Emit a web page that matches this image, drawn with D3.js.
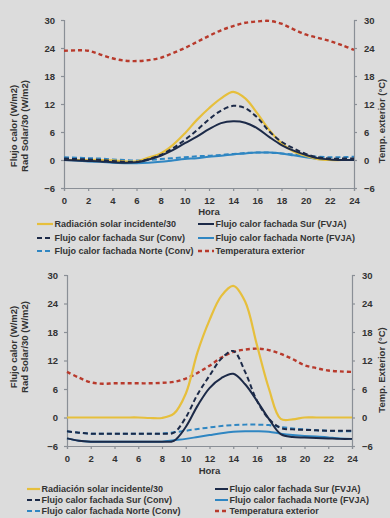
<!DOCTYPE html>
<html><head><meta charset="utf-8">
<script src="https://cdn.jsdelivr.net/npm/d3@7/dist/d3.min.js"></script>
<style>
html,body{margin:0;padding:0;background:#dcdcdc;}
svg{display:block;font-family:"Liberation Sans",Arial,sans-serif;}
</style></head>
<body>
<svg id="c" width="390" height="518"></svg>
<script>
// ---------- DATA ----------
const hours = d3.range(0, 25);
const xTicks = [0,2,4,6,8,10,12,14,16,18,20,22,24];
const yTicks = [-6,0,6,12,18,24,30];
const seriesNames = [
  "Radiación solar incidente/30",
  "Flujo calor fachada Sur (FVJA)",
  "Flujo calor fachada Sur (Conv)",
  "Flujo calor fachada Norte (FVJA)",
  "Flujo calor fachada Norte (Conv)",
  "Temperatura exterior"
];

// Chart 1 (top)
const top_solar   = [0,0,0,0,-0.1,-0.3,-0.3,0.5,1.4,3.2,5.7,8.6,11.1,13.2,14.6,13.2,10.0,6.4,3.6,1.8,0.9,0.2,0,0,0];
const top_surFVJA = [0,-0.1,-0.2,-0.3,-0.5,-0.6,-0.5,0.1,0.9,2.1,3.6,5.0,6.6,7.9,8.3,8.0,6.8,4.9,3.2,2.0,1.1,0.4,0.1,0,0];
const top_surConv = [0.3,0.2,0.1,0,-0.2,-0.4,-0.4,0.2,1.1,2.5,4.3,6.4,8.7,10.6,11.6,11.1,9.1,6.1,3.9,2.5,1.3,0.6,0.3,0.3,0.3];
const top_norFVJA = [0,-0.1,-0.3,-0.4,-0.6,-0.7,-0.7,-0.6,-0.4,-0.1,0.2,0.4,0.7,0.9,1.2,1.4,1.6,1.6,1.4,1.0,0.6,0.2,0,0,0];
const top_norConv = [0.6,0.5,0.4,0.3,0.1,0,-0.1,0,0.2,0.4,0.6,0.8,0.9,1.1,1.3,1.5,1.6,1.6,1.4,1.2,0.9,0.7,0.6,0.6,0.7];
const top_temp    = [23.4,23.5,23.4,22.6,21.8,21.3,21.2,21.4,21.9,22.9,24.0,25.3,26.6,27.8,28.7,29.4,29.7,29.8,29.2,28.0,26.9,26.2,25.5,24.6,23.6];

// Chart 2 (bottom)
const bot_solar   = [0,0,0,0,0,0,0,-0.1,-0.1,0.8,5.0,13.8,20.5,25.6,27.7,24.4,15.2,6.1,-0.3,-0.4,0,0,0,0,0];
const bot_surFVJA = [-4.4,-4.9,-5.1,-5.1,-5.1,-5.1,-5.1,-5.1,-5.1,-4.9,-2.0,2.5,6.2,8.3,9.2,7.0,3.5,-0.3,-3.5,-4.1,-4.2,-4.3,-4.4,-4.5,-4.5];
const bot_surConv = [-2.9,-3.2,-3.4,-3.4,-3.4,-3.4,-3.4,-3.4,-3.4,-3.2,0,4.9,8.8,12.4,14.0,9.6,3.5,-0.3,-2.2,-2.5,-2.6,-2.7,-2.8,-2.8,-2.8];
const bot_norFVJA = [-4.4,-4.9,-5.1,-5.1,-5.1,-5.1,-5.1,-5.1,-5.1,-4.8,-4.5,-4.1,-3.7,-3.3,-3.0,-2.9,-2.9,-3.0,-3.4,-3.7,-3.9,-4.0,-4.2,-4.4,-4.5];
const bot_norConv = [-2.9,-3.2,-3.4,-3.4,-3.4,-3.4,-3.4,-3.4,-3.4,-3.1,-2.8,-2.4,-2.1,-1.8,-1.6,-1.5,-1.5,-1.6,-2.0,-2.3,-2.5,-2.7,-2.8,-2.9,-2.9];
const bot_temp    = [9.6,8.4,7.4,7.1,7.2,7.2,7.2,7.2,7.3,7.5,8.2,9.4,10.9,12.6,13.8,14.3,14.5,14.2,13.4,12.3,11.0,10.4,9.9,9.7,9.6];

// ---------- STYLES ----------
const styles = [
  {color:"#e6bf3c", dash:null,  w:2.2},
  {color:"#1c2a48", dash:null,  w:2.0},
  {color:"#1c2a48", dash:"5,3", w:2.0},
  {color:"#2f86c2", dash:null,  w:2.0},
  {color:"#2f86c2", dash:"5,3", w:2.0},
  {color:"#b83a2c", dash:"4,3", w:2.4}
];

const svg = d3.select("#c");

function drawChart(cfg, seriesList) {
  const g = svg.append("g");
  const x = d3.scaleLinear().domain([0,24]).range([cfg.left, cfg.right]);
  const y = d3.scaleLinear().domain([-6,30]).range([cfg.bottom, cfg.top]);

  const axisColor = "#8a8f96";
  const fontTick = "bold 9.5px 'Liberation Sans', Arial, sans-serif";

  const ax = g.append("g").attr("transform", `translate(0,${cfg.bottom})`)
    .call(d3.axisBottom(x).tickValues(xTicks).tickSize(3).tickFormat(d3.format("d")));
  const ayL = g.append("g").attr("transform", `translate(${cfg.left},0)`)
    .call(d3.axisLeft(y).tickValues(yTicks).tickSize(3).tickFormat(d3.format("d")));
  const ayR = g.append("g").attr("transform", `translate(${cfg.right},0)`)
    .call(d3.axisRight(y).tickValues(yTicks).tickSize(3).tickFormat(d3.format("d")));
  [ax, ayL, ayR].forEach(a => {
    a.selectAll("path,line").attr("stroke", axisColor).attr("stroke-width", 1.2);
    a.selectAll("text").attr("fill", "#333").style("font", fontTick);
  });
  ax.selectAll("text").attr("dy", "1.0em");
  ayL.selectAll("text").attr("dx", "-3");
  ayR.selectAll("text").attr("dx", "4");

  const line = d3.line().x((d,i)=>x(hours[i])).y(d=>y(d)).curve(d3.curveCatmullRom.alpha(0.5));
  const order = [4,3,5,0,2,1];
  order.forEach(k => {
    const s = styles[k];
    g.append("path").datum(seriesList[k])
      .attr("d", line).attr("fill","none")
      .attr("stroke", s.color).attr("stroke-width", s.w)
      .attr("stroke-dasharray", s.dash)
      .attr("stroke-linejoin","round");
  });

  // titles
  const tf = "bold 9.5px 'Liberation Sans', Arial, sans-serif";
  g.append("text").attr("transform", `translate(${cfg.ltx1},${cfg.ltc}) rotate(-90)`)
    .attr("text-anchor","middle").style("font", tf).attr("fill","#333").text("Flujo calor (W/m2)");
  g.append("text").attr("transform", `translate(${cfg.ltx2},${cfg.ltc}) rotate(-90)`)
    .attr("text-anchor","middle").style("font", tf).attr("fill","#333").text("Rad Solar/30 (W/m2)");
  g.append("text").attr("transform", `translate(${cfg.rtx},${cfg.rtc}) rotate(-90)`)
    .attr("text-anchor","middle").style("font", tf).attr("fill","#333").text(cfg.rtitle);
  g.append("text").attr("x", (cfg.left+cfg.right)/2).attr("y", cfg.horaY)
    .attr("text-anchor","middle").style("font", tf).attr("fill","#333").text("Hora");

  // legend
  const lf = "bold 9px 'Liberation Sans', Arial, sans-serif";
  seriesNames.forEach((name, k) => {
    const col = k % 2, row = Math.floor(k/2);
    const lx = col === 0 ? cfg.leg1x : cfg.leg2x;
    const ly = cfg.legY[row];
    const s = styles[k];
    g.append("line").attr("x1", lx).attr("x2", lx + cfg.legLen)
      .attr("y1", ly).attr("y2", ly)
      .attr("stroke", s.color).attr("stroke-width", s.w)
      .attr("stroke-dasharray", s.dash);
    g.append("text").attr("x", lx + cfg.legLen + 1.5).attr("y", ly).attr("dy","0.35em")
      .style("font", lf).attr("fill","#333").text(name);
  });
}

drawChart({left:64, right:354, top:20, bottom:188,
  ltx1:17, ltx2:28, ltc:126, rtx:385, rtc:121, rtitle:"Temp. exterior (°C)",
  horaY:215, leg1x:37, leg2x:198, legLen:16, legY:[224,238,251]},
  [top_solar, top_surFVJA, top_surConv, top_norFVJA, top_norConv, top_temp]);

drawChart({left:67, right:352, top:275, bottom:446,
  ltx1:17, ltx2:28, ltc:347, rtx:385, rtc:370, rtitle:"Temp. Exterior (°C)",
  horaY:474, leg1x:27, leg2x:215, legLen:13, legY:[489,500,511]},
  [bot_solar, bot_surFVJA, bot_surConv, bot_norFVJA, bot_norConv, bot_temp]);
</script>
</body></html>
